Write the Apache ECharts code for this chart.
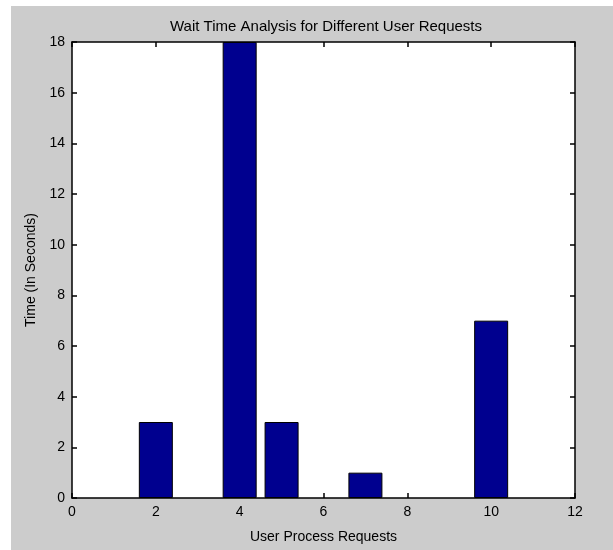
<!DOCTYPE html>
<html><head><meta charset="utf-8">
<script src="https://cdn.jsdelivr.net/npm/echarts@6/dist/echarts.min.js"></script>
<style>html,body{margin:0;padding:0;background:#fff}#c{width:613px;height:550px}</style>
</head><body><div id="c"></div>
<script>
const requests = [2, 4, 5, 7, 10];
const waitTimes = [3, 18, 3, 1, 7];
const xTicks = [0, 2, 4, 6, 8, 10, 12];
const yTicks = [0, 2, 4, 6, 8, 10, 12, 14, 16, 18];
const titleText = 'Wait Time Analysis for Different User Requests';
const xLabel = 'User Process Requests';
const yLabel = 'Time (In Seconds)';

const chart = echarts.init(document.getElementById('c'), null, {renderer: 'canvas'});
const font = 'Liberation Sans, Arial, sans-serif';
function axisBase(extra) {
  return Object.assign({
    type: 'value', min: 0,
    axisLine: {show: true, onZero: false, lineStyle: {color: '#000', width: 1.5}},
    axisTick: {show: true, inside: true, length: 5, lineStyle: {color: '#000', width: 1.5}},
    splitLine: {show: false}
  }, extra);
}
chart.setOption({
  animation: false,
  backgroundColor: '#fff',
  graphic: [{type: 'rect', z: -10, shape: {x: 11, y: 6, width: 602, height: 544}, style: {fill: '#cccccc'}}],
  title: {text: titleText, left: 321, top: 14, textAlign: 'center',
    textStyle: {fontFamily: font, fontSize: 15, fontWeight: 'normal', color: '#000'}},
  grid: {left: 72, right: 38, top: 42, bottom: 52, show: true, backgroundColor: '#fff', borderWidth: 0},
  xAxis: [
    axisBase({position: 'bottom', max: xTicks[xTicks.length-1], interval: 2,
      name: xLabel, nameLocation: 'middle', nameGap: 32,
      nameTextStyle: {fontFamily: font, fontSize: 14, color: '#000'},
      axisLabel: {fontFamily: font, fontSize: 14, color: '#000', margin: 7}}),
    axisBase({position: 'top', max: xTicks[xTicks.length-1], interval: 2,
      axisLabel: {show: false}})
  ],
  yAxis: [
    axisBase({position: 'left', max: yTicks[yTicks.length-1], interval: 2,
      name: yLabel, nameLocation: 'middle', nameGap: 32,
      nameTextStyle: {fontFamily: font, fontSize: 14, color: '#000'},
      axisLabel: {fontFamily: font, fontSize: 14, color: '#000', margin: 7}}),
    axisBase({position: 'right', max: yTicks[yTicks.length-1], interval: 2,
      axisLabel: {show: false}})
  ],
  series: [{
    type: 'bar', xAxisIndex: 0, yAxisIndex: 0,
    data: requests.map((r, i) => [r, waitTimes[i]]),
    barWidth: 34,
    itemStyle: {color: '#00008f', borderColor: '#000', borderWidth: 1}
  }]
});
</script></body></html>
